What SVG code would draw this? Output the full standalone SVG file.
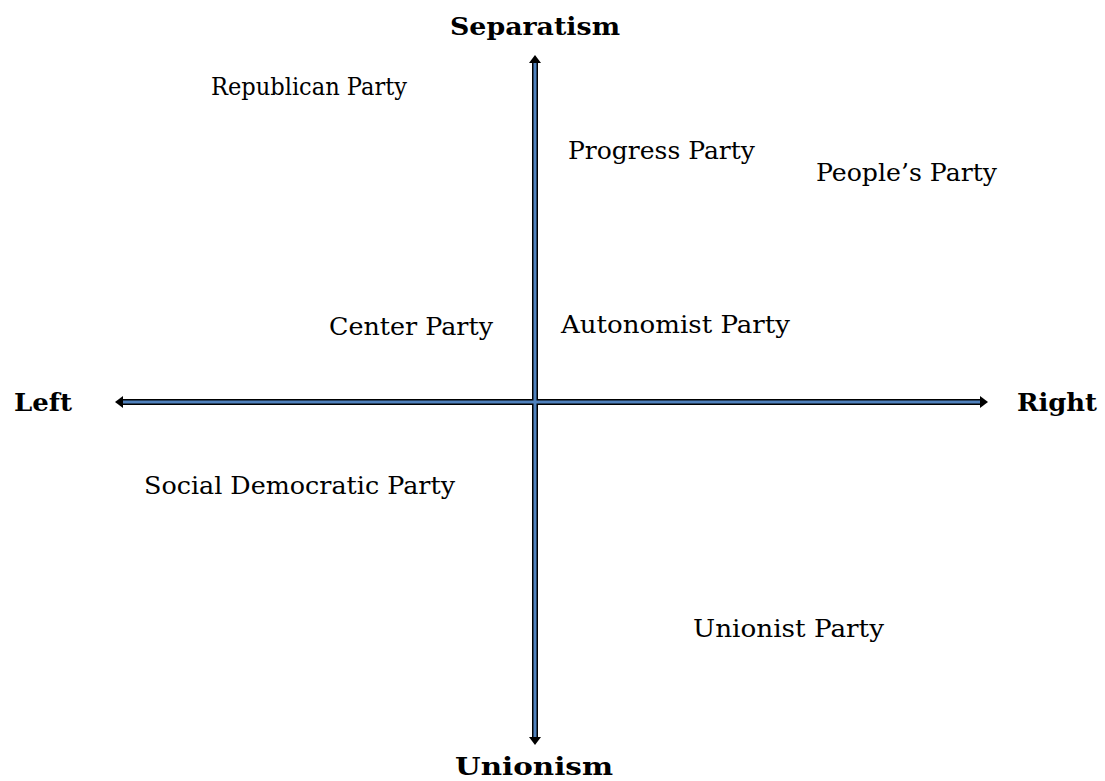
<svg xmlns="http://www.w3.org/2000/svg" width="1105" height="781" viewBox="0 0 1105 781">
<style>
.lbl{font-family:"DejaVu Serif","Liberation Serif",serif;font-size:24px;fill:#000}
.ax{font-family:"DejaVu Serif","Liberation Serif",serif;font-size:25px;font-weight:bold;fill:#000}
.outer{stroke:#000;stroke-width:6;fill:none}
.inner{stroke:#4f81bd;stroke-width:3;fill:none}
.head{fill:#000}
</style>
<rect width="1105" height="781" fill="#fff"/>
<g id="connectors">
<line class="outer" x1="535" y1="62" x2="535" y2="738"/>
<line class="outer" x1="122" y1="402" x2="981" y2="402"/>
<line class="inner" x1="535" y1="62" x2="535" y2="738"/>
<line class="inner" x1="122" y1="402" x2="981" y2="402"/>
<polygon class="head" points="535,55 529,63 541,63"/>
<polygon class="head" points="535,745 529,737 541,737"/>
<polygon class="head" points="115,402 123,396 123,408"/>
<polygon class="head" points="988,402 980,396 980,408"/>
</g>
<g id="axis-separatism"><text class="ax" x="535" y="35" text-anchor="middle" textLength="170" lengthAdjust="spacingAndGlyphs">Separatism</text></g>
<g id="axis-unionism"><text class="ax" x="534" y="775" text-anchor="middle" textLength="158" lengthAdjust="spacingAndGlyphs">Unionism</text></g>
<g id="axis-left"><text class="ax" x="14" y="411" textLength="58" lengthAdjust="spacingAndGlyphs">Left</text></g>
<g id="axis-right"><text class="ax" x="1017" y="411" textLength="80" lengthAdjust="spacingAndGlyphs">Right</text></g>
<g id="republican"><text class="lbl" x="211" y="95" textLength="196" lengthAdjust="spacingAndGlyphs">Republican Party</text></g>
<g id="progress"><text class="lbl" x="568" y="159" textLength="187" lengthAdjust="spacingAndGlyphs">Progress Party</text></g>
<g id="peoples"><text class="lbl" x="816" y="181" textLength="181" lengthAdjust="spacingAndGlyphs">People’s Party</text></g>
<g id="center"><text class="lbl" x="329" y="335" textLength="164" lengthAdjust="spacingAndGlyphs">Center Party</text></g>
<g id="autonomist"><text class="lbl" x="561" y="333" textLength="229" lengthAdjust="spacingAndGlyphs">Autonomist Party</text></g>
<g id="socdem"><text class="lbl" x="144" y="494" textLength="311" lengthAdjust="spacingAndGlyphs">Social Democratic Party</text></g>
<g id="unionist"><text class="lbl" x="693" y="637" textLength="191" lengthAdjust="spacingAndGlyphs">Unionist Party</text></g>
</svg>
